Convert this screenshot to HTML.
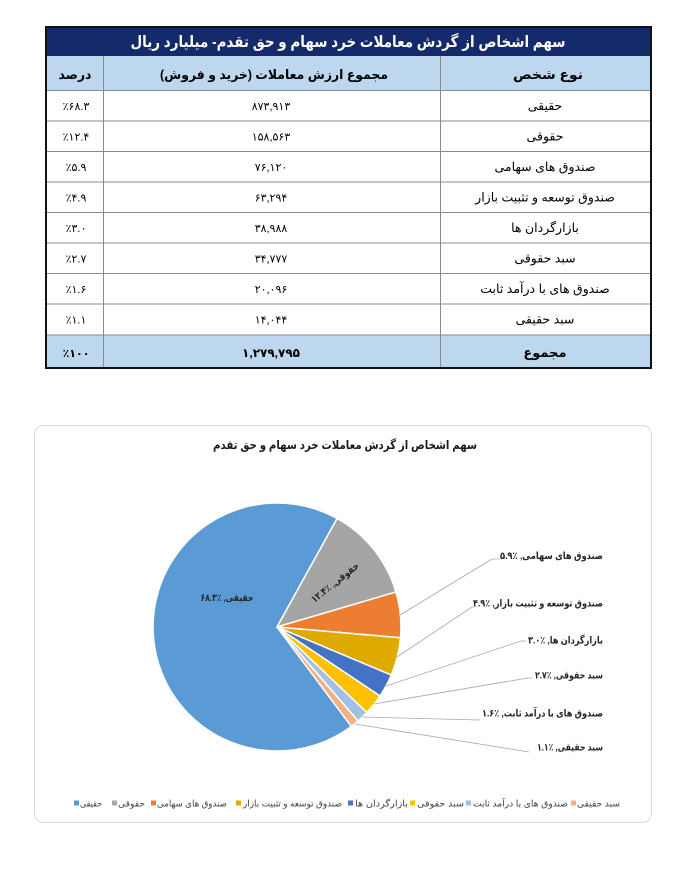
<!DOCTYPE html>
<html>
<head>
<meta charset="utf-8">
<style>
  html,body{margin:0;padding:0;background:#fff;}
  svg{display:block;}
  text{font-family:"Liberation Sans","DejaVu Sans",sans-serif;}
</style>
</head>
<body>
<svg width="690" height="882" viewBox="0 0 690 882" xmlns="http://www.w3.org/2000/svg">
  <rect x="0" y="0" width="690" height="882" fill="#ffffff"/>

  <!-- ===== TABLE ===== -->
  <rect x="46" y="27" width="605" height="29" fill="#152a6a"/>
  <rect x="46" y="56" width="605" height="34" fill="#bdd7ee"/>
  <rect x="46" y="90" width="605" height="245" fill="#ffffff"/>
  <rect x="46" y="335" width="605" height="33" fill="#bdd7ee"/>

  <!-- grid -->
  <g stroke="#8a8a8a" stroke-width="1" fill="none">
    <line x1="46" y1="90.5" x2="651" y2="90.5"/>
    <line x1="46" y1="121" x2="651" y2="121"/>
    <line x1="46" y1="151.5" x2="651" y2="151.5"/>
    <line x1="46" y1="182" x2="651" y2="182"/>
    <line x1="46" y1="212.5" x2="651" y2="212.5"/>
    <line x1="46" y1="243" x2="651" y2="243"/>
    <line x1="46" y1="273.5" x2="651" y2="273.5"/>
    <line x1="46" y1="304" x2="651" y2="304"/>
    <line x1="46" y1="335" x2="651" y2="335"/>
    <line x1="103.5" y1="56" x2="103.5" y2="368"/>
    <line x1="440.5" y1="56" x2="440.5" y2="368"/>
  </g>
  <rect x="46" y="27" width="605" height="341" fill="none" stroke="#111111" stroke-width="2"/>

  <!-- title -->
  <text x="348" y="47" text-anchor="middle" direction="rtl" font-weight="bold" font-size="15.5" fill="#ffffff" textLength="435" lengthAdjust="spacingAndGlyphs">سهم اشخاص از گردش معاملات خرد سهام و حق تقدم- میلیارد ریال</text>

  <!-- subheader -->
  <text x="75" y="79" text-anchor="middle" direction="rtl" font-weight="bold" font-size="13" fill="#000" textLength="33" lengthAdjust="spacingAndGlyphs">درصد</text>
  <text x="274" y="79" text-anchor="middle" direction="rtl" font-weight="bold" font-size="13" fill="#000" textLength="228" lengthAdjust="spacingAndGlyphs">مجموع ارزش معاملات (خرید و فروش)</text>
  <text x="548" y="79" text-anchor="middle" direction="rtl" font-weight="bold" font-size="13" fill="#000" textLength="70" lengthAdjust="spacingAndGlyphs">نوع شخص</text>

  <!-- rows -->
  <g font-size="12.5" fill="#000" text-anchor="middle">
    <text x="545" y="110" direction="rtl">حقیقی</text>
    <text x="545" y="140.5" direction="rtl">حقوقی</text>
    <text x="545" y="171" direction="rtl">صندوق های سهامی</text>
    <text x="545" y="201.5" direction="rtl">صندوق توسعه و تثبیت بازار</text>
    <text x="545" y="232" direction="rtl">بازارگردان ها</text>
    <text x="545" y="262.5" direction="rtl">سبد حقوقی</text>
    <text x="545" y="293" direction="rtl">صندوق های با درآمد ثابت</text>
    <text x="545" y="323.5" direction="rtl">سبد حقیقی</text>
  </g>
  <g font-size="11" fill="#000" text-anchor="middle">
    <text x="271" y="110">۸۷۳,۹۱۳</text>
    <text x="271" y="140.5">۱۵۸,۵۶۳</text>
    <text x="271" y="171">۷۶,۱۲۰</text>
    <text x="271" y="201.5">۶۳,۲۹۴</text>
    <text x="271" y="232">۳۸,۹۸۸</text>
    <text x="271" y="262.5">۳۴,۷۷۷</text>
    <text x="271" y="293">۲۰,۰۹۶</text>
    <text x="271" y="323.5">۱۴,۰۴۴</text>
  </g>
  <g font-size="11" fill="#000" text-anchor="middle">
    <text x="76" y="110">٪۶۸.۳</text>
    <text x="76" y="140.5">٪۱۲.۴</text>
    <text x="76" y="171">٪۵.۹</text>
    <text x="76" y="201.5">٪۴.۹</text>
    <text x="76" y="232">٪۳.۰</text>
    <text x="76" y="262.5">٪۲.۷</text>
    <text x="76" y="293">٪۱.۶</text>
    <text x="76" y="323.5">٪۱.۱</text>
  </g>
  <!-- total -->
  <text x="545" y="357" text-anchor="middle" direction="rtl" font-weight="bold" font-size="13" fill="#000">مجموع</text>
  <text x="271" y="357" text-anchor="middle" font-weight="bold" font-size="12" fill="#000">۱,۲۷۹,۷۹۵</text>
  <text x="76" y="357" text-anchor="middle" font-weight="bold" font-size="11" fill="#000">٪۱۰۰</text>

  <!-- ===== CHART ===== -->
  <rect x="34.5" y="425.5" width="617" height="397" rx="9" ry="9" fill="#ffffff" stroke="#d9d9d9" stroke-width="1"/>
  <text x="345" y="449" text-anchor="middle" direction="rtl" font-weight="bold" font-size="12" fill="#1a1a1a" textLength="264" lengthAdjust="spacingAndGlyphs">سهم اشخاص از گردش معاملات خرد سهام و حق تقدم</text>

  <!-- pie -->
  <g stroke="#ffffff" stroke-width="1.5" stroke-linejoin="round">
    <path d="M277,627 L351.3,726.3 A124,124 0 1 1 337.1,518.5 Z" fill="#5b9bd5"/>
    <path d="M277,627 L337.1,518.5 A124,124 0 0 1 395.95,592.0 Z" fill="#a5a5a5"/>
    <path d="M277,627 L395.95,592.0 A124,124 0 0 1 400.5,637.8 Z" fill="#ed7d31"/>
    <path d="M277,627 L400.5,637.8 A124,124 0 0 1 391.3,675.1 Z" fill="#deaa00"/>
    <path d="M277,627 L391.3,675.1 A124,124 0 0 1 380.0,696.0 Z" fill="#4472c4"/>
    <path d="M277,627 L380.0,696.0 A124,124 0 0 1 366.8,712.5 Z" fill="#ffc000"/>
    <path d="M277,627 L366.8,712.5 A124,124 0 0 1 358.0,720.9 Z" fill="#a2bfe4"/>
    <path d="M277,627 L358.0,720.9 A124,124 0 0 1 351.3,726.3 Z" fill="#f4b183"/>
  </g>

  <!-- inner labels -->
  <text x="227" y="601" text-anchor="middle" direction="rtl" font-weight="bold" font-size="10" fill="#262626" textLength="53" lengthAdjust="spacingAndGlyphs">حقیقی, ٪۶۸.۳</text>
  <text x="0" y="0" transform="translate(337,585) rotate(-38.7)" text-anchor="middle" direction="rtl" font-weight="bold" font-size="10" fill="#262626" textLength="58" lengthAdjust="spacingAndGlyphs">حقوقی, ٪۱۲.۴</text>

  <!-- leader lines -->
  <g stroke="#a6a6a6" stroke-width="0.8" fill="none">
    <polyline points="400,615 492,559 499,559"/>
    <polyline points="397,657 472,607 474,607"/>
    <polyline points="386,686 521,641 526,641"/>
    <polyline points="374,704 528,678 532,678"/>
    <polyline points="362,717 480,720"/>
    <polyline points="355,724 529,752"/>
  </g>

  <!-- outside labels -->
  <g font-weight="bold" font-size="10" fill="#262626" text-anchor="middle">
    <text x="551.5" y="559" direction="rtl" textLength="103" lengthAdjust="spacingAndGlyphs">صندوق های سهامی, ٪۵.۹</text>
    <text x="538" y="606.5" direction="rtl" textLength="130" lengthAdjust="spacingAndGlyphs">صندوق توسعه و تثبیت بازار, ٪۴.۹</text>
    <text x="565.5" y="643.5" direction="rtl" textLength="75" lengthAdjust="spacingAndGlyphs">بازارگردان ها, ٪۳.۰</text>
    <text x="569" y="678.5" direction="rtl" textLength="68" lengthAdjust="spacingAndGlyphs">سبد حقوقی, ٪۲.۷</text>
    <text x="542.5" y="716.5" direction="rtl" textLength="121" lengthAdjust="spacingAndGlyphs">صندوق های با درآمد ثابت, ٪۱.۶</text>
    <text x="570" y="750.5" direction="rtl" textLength="66" lengthAdjust="spacingAndGlyphs">سبد حقیقی, ٪۱.۱</text>
  </g>

  <!-- legend -->
  <g>
    <rect x="74" y="800.5" width="5" height="5" fill="#5b9bd5"/>
    <rect x="112" y="800.5" width="5" height="5" fill="#a5a5a5"/>
    <rect x="151" y="800.5" width="5" height="5" fill="#ed7d31"/>
    <rect x="236" y="800.5" width="5" height="5" fill="#deaa00"/>
    <rect x="348" y="800.5" width="5" height="5" fill="#4472c4"/>
    <rect x="410" y="800.5" width="5" height="5" fill="#ffc000"/>
    <rect x="466" y="800.5" width="5" height="5" fill="#a2bfe4"/>
    <rect x="571" y="800.5" width="5" height="5" fill="#f4b183"/>
  </g>
  <g font-size="9" fill="#404040" text-anchor="middle">
    <text x="91" y="806.5" direction="rtl" textLength="22" lengthAdjust="spacingAndGlyphs">حقیقی</text>
    <text x="131.5" y="806.5" direction="rtl" textLength="27" lengthAdjust="spacingAndGlyphs">حقوقی</text>
    <text x="192" y="806.5" direction="rtl" textLength="70" lengthAdjust="spacingAndGlyphs">صندوق های سهامی</text>
    <text x="292.5" y="806.5" direction="rtl" textLength="99" lengthAdjust="spacingAndGlyphs">صندوق توسعه و تثبیت بازار</text>
    <text x="381.5" y="806.5" direction="rtl" textLength="53" lengthAdjust="spacingAndGlyphs">بازارگردان ها</text>
    <text x="440.5" y="806.5" direction="rtl" textLength="47" lengthAdjust="spacingAndGlyphs">سبد حقوقی</text>
    <text x="520.5" y="806.5" direction="rtl" textLength="95" lengthAdjust="spacingAndGlyphs">صندوق های با درآمد ثابت</text>
    <text x="598.5" y="806.5" direction="rtl" textLength="43" lengthAdjust="spacingAndGlyphs">سبد حقیقی</text>
  </g>
</svg>
</body>
</html>
